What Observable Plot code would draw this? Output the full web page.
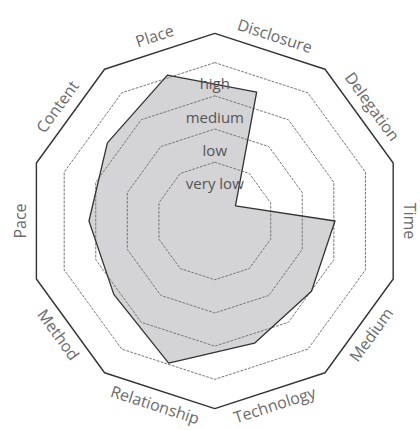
<!DOCTYPE html>
<html>
<head>
<meta charset="utf-8">
<script src="https://cdn.jsdelivr.net/npm/d3@7"></script>
<script src="https://cdn.jsdelivr.net/npm/@observablehq/plot@0.6"></script>
<style>
  html, body { margin: 0; padding: 0; background: #fff; }
  #chart svg { display: block; }
</style>
</head>
<body>
<div id="chart"></div>
<script>
// Axes, clockwise starting with "Place" (just left of top)
const axisNames = ["Place", "Disclosure", "Delegation", "Time", "Medium", "Technology", "Relationship", "Method", "Pace", "Content"];
// Profile values (0 = centre, 1 = very low ring … 4 = high ring)
const profileValues = [3.85, 3.31, 0, 2.85, 2.83, 3.10, 3.73, 2.99, 3.02, 3.23];
// Level rings and their labels
const levelValues = [1, 2, 3, 4];
const levelNames = ["very low", "low", "medium", "high"];
const frameLevel = 4.88;

// geometry helpers (in scale units)
const unit = 33.2;
const inner = 0.77;            // radius offset of level 0
const labelRadius = 194 / unit; // radius of axis labels
const levelLabelShift = -0.66; // level labels sit inside their ring
const toRad = (d) => d * Math.PI / 180;
const axisAngle = (i) => -18 + 36 * i;

function polar(r, deg) {
  return { x: r * Math.sin(toRad(deg)), y: r * Math.cos(toRad(deg)) };
}

const profile = axisNames.map((name, i) => ({ name, ...polar(profileValues[i] + inner, axisAngle(i)) }));

const ringPts = [];
levelValues.forEach((lv) => {
  for (let j = 0; j < 10; j++) ringPts.push({ level: lv, ...polar(lv + inner, 36 * j) });
});
const framePts = d3.range(10).map((j) => polar(frameLevel + inner, 36 * j));

const axisLabels = axisNames.map((name, i) => {
  let a = axisAngle(i);
  let n = ((a + 180) % 360 + 360) % 360 - 180; // normalise to [-180,180)
  let rot = Math.abs(n) <= 90 ? n : (n > 0 ? n - 180 : n + 180);
  return { name, rot, ...polar(labelRadius, a) };
});

const levelLabels = levelNames.map((name, i) => ({ name, x: 0, y: levelValues[i] + inner + levelLabelShift }));

const chart = Plot.plot({
  width: 420,
  height: 430,
  margin: 0,
  style: { fontFamily: "'Open Sans', sans-serif", background: "#fff" },
  x: { domain: [-214.3 / unit, 205.7 / unit], range: [0, 420], axis: null },
  y: { domain: [-209.5 / unit, 220.5 / unit], range: [430, 0], axis: null },
  marks: [
    Plot.line(profile, { x: "x", y: "y", curve: "linear-closed", fill: "#d4d4d6", stroke: "none" }),
    Plot.line(ringPts, { x: "x", y: "y", z: "level", curve: "linear-closed", stroke: "#777", strokeWidth: 1, strokeDasharray: "2,2" }),
    Plot.line(profile, { x: "x", y: "y", curve: "linear-closed", fill: "none", stroke: "#333", strokeWidth: 1.3 }),
    Plot.line(framePts, { x: "x", y: "y", curve: "linear-closed", stroke: "#333", strokeWidth: 1.4 }),
    Plot.text(levelLabels, { x: "x", y: "y", text: "name", fontSize: 15, fill: "#555", textAnchor: "middle", lineAnchor: "middle" }),
    Plot.text(axisLabels, { x: "x", y: "y", text: "name", rotate: "rot", fontSize: 16, fill: "#6a6a6a", textAnchor: "middle", lineAnchor: "middle" })
  ]
});
document.getElementById("chart").append(chart);
</script>
</body>
</html>
